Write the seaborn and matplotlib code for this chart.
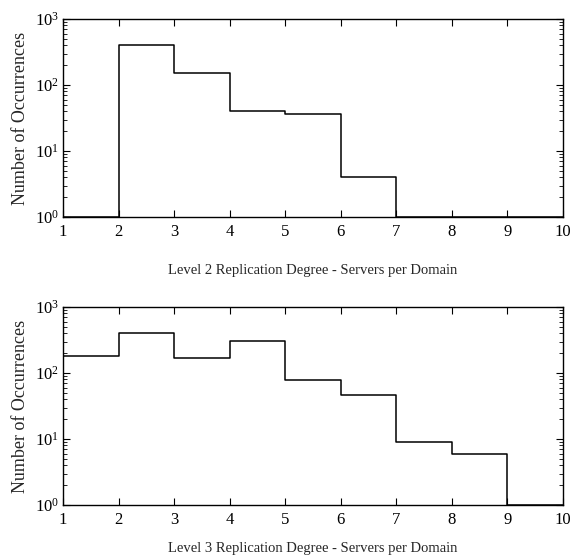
import numpy as np
import pandas as pd
import matplotlib
matplotlib.use("Agg")
import matplotlib.pyplot as plt
import seaborn as sns
from matplotlib.ticker import LogLocator, FixedLocator, NullFormatter

# Data
bin_edges = [1, 2, 3, 4, 5, 6, 7, 8, 9, 10]
bin_left = [1, 2, 3, 4, 5, 6, 7, 8, 9]
level2_counts = [1, 404, 150, 41, 36, 4, 1, 1, 1]
level3_counts = [181, 398, 171, 309, 77, 46, 9, 6, 1]
x_ticks = [1, 2, 3, 4, 5, 6, 7, 8, 9, 10]
xlabels = ["Level 2 Replication Degree - Servers per Domain",
           "Level 3 Replication Degree - Servers per Domain"]
ylabel = "Number of Occurrences"

sns.set_style("ticks")
plt.rcParams["font.family"] = ["Liberation Serif", "DejaVu Serif"]
plt.rcParams["mathtext.fontset"] = "custom"
plt.rcParams["mathtext.rm"] = "Liberation Serif"
plt.rcParams["mathtext.it"] = "Liberation Serif"

fig = plt.figure(figsize=(5.71, 5.56), dpi=100)
W, H = 571, 556
ax1 = fig.add_axes([63 / W, 1 - 217 / H, (563 - 63) / W, (217 - 19) / H])
ax2 = fig.add_axes([63 / W, 1 - 505 / H, (563 - 63) / W, (505 - 307) / H])

for ax, counts, xl, lp in [(ax1, level2_counts, xlabels[0], 17),
                           (ax2, level3_counts, xlabels[1], 10)]:
    df = pd.DataFrame({"x": bin_left, "w": counts})
    sns.histplot(data=df, x="x", weights="w", bins=bin_edges, element="step",
                 fill=False, color="black", linewidth=1.1, ax=ax)
    ax.set_yscale("log")
    ax.set_ylim(1, 1000)
    ax.set_xlim(1, 10)
    ax.set_xticks(x_ticks)
    ax.set_xticklabels([str(t) for t in x_ticks])
    ax.yaxis.set_major_locator(FixedLocator([1, 10, 100, 1000]))
    ax.set_yticklabels([r"$10^{0}$", r"$10^{1}$", r"$10^{2}$", r"$10^{3}$"])
    ax.yaxis.set_minor_locator(LogLocator(base=10, subs=np.arange(2, 10)))
    ax.yaxis.set_minor_formatter(NullFormatter())
    ax.tick_params(axis="both", which="both", direction="in", top=True, right=True,
                   labelsize=12, colors="black")
    ax.tick_params(axis="x", which="major", length=5, width=0.8, pad=5)
    ax.tick_params(axis="y", which="major", length=5, width=0.8, pad=3)
    ax.tick_params(axis="y", which="minor", length=3, width=0.6)
    ax.tick_params(axis="x", which="minor", bottom=False, top=False)
    for s in ax.spines.values():
        s.set_linewidth(1.0)
        s.set_color("black")
    ax.set_xlabel(xl, fontsize=10.5, labelpad=lp)
    ax.set_ylabel(ylabel, fontsize=13, labelpad=4)

fig.savefig("out.png", dpi=100)
